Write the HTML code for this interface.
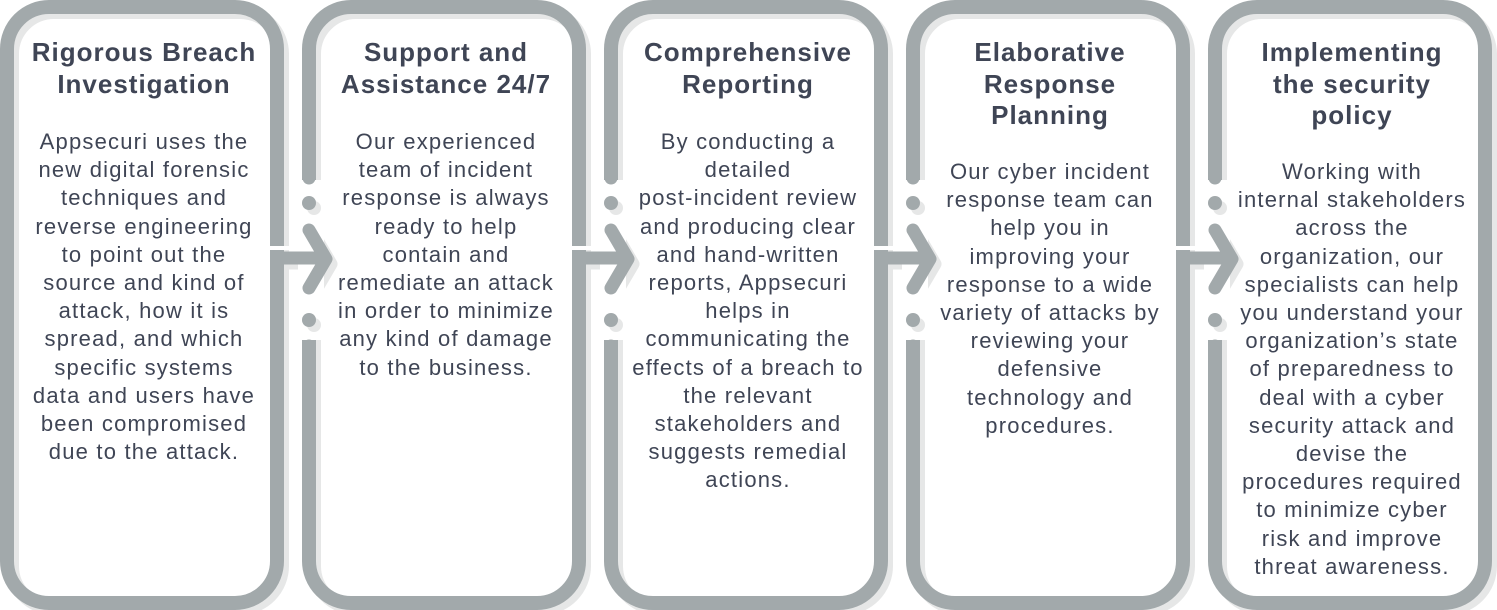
<!DOCTYPE html>
<html><head><meta charset="utf-8"><style>
html,body{margin:0;padding:0;background:#fff;}
#w{position:relative;width:1497px;height:610px;overflow:hidden;font-family:"Liberation Sans",sans-serif;color:#3f4555;}
svg{position:absolute;left:0;top:0;}
.t{position:absolute;width:260px;text-align:center;font-weight:bold;font-size:26px;letter-spacing:1px;line-height:31.5px;white-space:nowrap;}
.b{position:absolute;width:260px;text-align:center;font-size:22px;letter-spacing:1.2px;line-height:28.2px;white-space:nowrap;}
</style></head><body><div id="w">
<svg width="1497" height="610" viewBox="0 0 1497 610">
<defs>
<g id="card">
<rect x="7" y="7" width="270" height="596" rx="42" fill="none" stroke-width="14"/>
</g>
<g id="conn" stroke-width="13" stroke-linecap="round" fill="none">
<line x1="277" y1="258" x2="322" y2="258" stroke-linecap="butt"/>
<polyline points="309,230 326,259 309,288" stroke-linejoin="round"/>
</g>
</defs>
<g stroke="#e6e7e7" fill="none" transform="translate(5,5)">
<use href="#card"/><use href="#card" x="302"/><use href="#card" x="604"/><use href="#card" x="906"/><use href="#card" x="1208"/>
<use href="#conn"/><use href="#conn" x="302"/><use href="#conn" x="604"/><use href="#conn" x="906"/>
</g>
<g stroke="#a2a9ab" fill="none">
<use href="#card"/><use href="#card" x="302"/><use href="#card" x="604"/><use href="#card" x="906"/><use href="#card" x="1208"/>
</g>
<g fill="#fff">
<rect x="298" y="180" width="26" height="160"/>
<rect x="600" y="180" width="26" height="160"/>
<rect x="902" y="180" width="26" height="160"/>
<rect x="1204" y="180" width="26" height="160"/>
</g>
<g fill="#e6e7e7">
<circle cx="314" cy="208" r="7"/><circle cx="314" cy="325" r="7"/>
<circle cx="616" cy="208" r="7"/><circle cx="616" cy="325" r="7"/>
<circle cx="918" cy="208" r="7"/><circle cx="918" cy="325" r="7"/>
<circle cx="1220" cy="208" r="7"/><circle cx="1220" cy="325" r="7"/>
</g>
<g stroke="#a2a9ab" stroke-width="13" stroke-linecap="round">
<line x1="309" y1="170" x2="309" y2="178"/><line x1="309" y1="346" x2="309" y2="360"/>
<line x1="611" y1="170" x2="611" y2="178"/><line x1="611" y1="346" x2="611" y2="360"/>
<line x1="913" y1="170" x2="913" y2="178"/><line x1="913" y1="346" x2="913" y2="360"/>
<line x1="1215" y1="170" x2="1215" y2="178"/><line x1="1215" y1="346" x2="1215" y2="360"/>
</g>
<g fill="#a2a9ab">
<circle cx="309" cy="203" r="7"/><circle cx="309" cy="320" r="7"/>
<circle cx="611" cy="203" r="7"/><circle cx="611" cy="320" r="7"/>
<circle cx="913" cy="203" r="7"/><circle cx="913" cy="320" r="7"/>
<circle cx="1215" cy="203" r="7"/><circle cx="1215" cy="320" r="7"/>
</g>
<g fill="#fff">
<rect x="268" y="246" width="40" height="4"/>
<rect x="570" y="246" width="40" height="4"/>
<rect x="872" y="246" width="40" height="4"/>
<rect x="1174" y="246" width="40" height="4"/>
</g>
<g stroke="#a2a9ab">
<use href="#conn"/><use href="#conn" x="302"/><use href="#conn" x="604"/><use href="#conn" x="906"/>
</g>
</svg>

<div class="t" style="left:14px;top:37px">Rigorous Breach<br>Investigation</div>
<div class="b" style="left:14px;top:128px">Appsecuri uses the<br>new digital forensic<br>techniques and<br>reverse engineering<br>to point out the<br>source and kind of<br>attack, how it is<br>spread, and which<br>specific systems<br>data and users have<br>been compromised<br>due to the attack.</div>

<div class="t" style="left:316px;top:37px">Support and<br>Assistance 24/7</div>
<div class="b" style="left:316px;top:128px">Our experienced<br>team of incident<br>response is always<br>ready to help<br>contain and<br>remediate an attack<br>in order to minimize<br>any kind of damage<br>to the business.</div>

<div class="t" style="left:618px;top:37px">Comprehensive<br>Reporting</div>
<div class="b" style="left:618px;top:128px">By conducting a<br>detailed<br>post-incident review<br>and producing clear<br>and hand-written<br>reports, Appsecuri<br>helps in<br>communicating the<br>effects of a breach to<br>the relevant<br>stakeholders and<br>suggests remedial<br>actions.</div>

<div class="t" style="left:920px;top:37px">Elaborative<br>Response<br>Planning</div>
<div class="b" style="left:920px;top:158px">Our cyber incident<br>response team can<br>help you in<br>improving your<br>response to a wide<br>variety of attacks by<br>reviewing your<br>defensive<br>technology and<br>procedures.</div>

<div class="t" style="left:1222px;top:37px">Implementing<br>the security<br>policy</div>
<div class="b" style="left:1222px;top:158px">Working with<br>internal stakeholders<br>across the<br>organization, our<br>specialists can help<br>you understand your<br>organization’s state<br>of preparedness to<br>deal with a cyber<br>security attack and<br>devise the<br>procedures required<br>to minimize cyber<br>risk and improve<br>threat awareness.</div>
</div></body></html>
